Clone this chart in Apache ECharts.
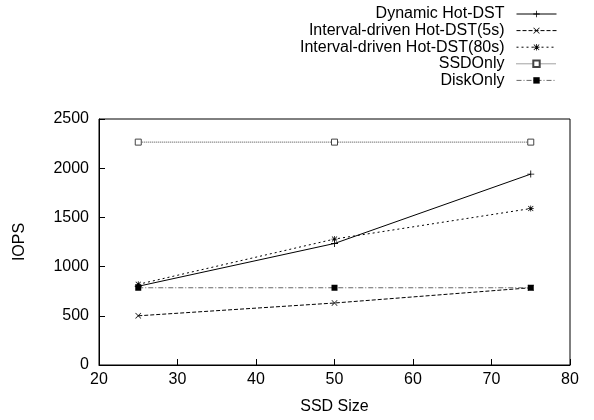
<!DOCTYPE html>
<html><head><meta charset="utf-8">
<script src="https://cdn.jsdelivr.net/npm/echarts@6/dist/echarts.min.js"></script>
<style>html,body{margin:0;padding:0;background:#fff}#c{width:594px;height:420px}</style>
</head><body><div id="c"></div>
<script>
const xValues = [25, 50, 75];
const seriesNames = ['Dynamic Hot-DST','Interval-driven Hot-DST(5s)','Interval-driven Hot-DST(80s)','SSDOnly','DiskOnly'];
const dynamicHotDST = [800, 1235, 1940];
const interval5s = [500, 630, 785];
const interval80s = [820, 1280, 1590];
const ssdOnly = [2265, 2265, 2265];
const diskOnly = [785, 785, 785];

const PLUS = 'path://M0,4.4 L10,4.4 L10,5.6 L0,5.6 Z M4.4,0 L5.6,0 L5.6,10 L4.4,10 Z';
const CROSS = 'path://M0.8,0 L10,9.2 L9.2,10 L0,0.8 Z M9.2,0 L10,0.8 L0.8,10 L0,9.2 Z';
const STAR = 'path://M0,4.4 L10,4.4 L10,5.6 L0,5.6 Z M4.4,0 L5.6,0 L5.6,10 L4.4,10 Z M1.2,0.4 L9.6,8.8 L8.8,9.6 L0.4,1.2 Z M8.8,0.4 L9.6,1.2 L1.2,9.6 L0.4,8.8 Z';

function pts(arr){ return xValues.map((x,i)=>[x,arr[i]]); }
const font = 'Liberation Sans, Arial, Helvetica, sans-serif';
const FS = 16;

const chart = echarts.init(document.getElementById('c'), null, {renderer:'canvas'});
chart.setOption({
  animation:false,
  backgroundColor:'#fff',
  textStyle:{fontFamily:font},
  legend:{
    orient:'vertical', align:'right', right:32, top:1,
    itemWidth:40, itemHeight:8, itemGap:0.6,
    lineStyle:{width:1},
    textStyle:{fontFamily:font, fontSize:FS, lineHeight:16, color:'#000', padding:[0,7,0,0]},
    data:seriesNames
  },
  grid:{left:99, right:24, top:119, bottom:53, show:true, borderColor:'#000', borderWidth:1},
  xAxis:{
    type:'value', min:20, max:80, interval:10,
    name:'SSD Size', nameLocation:'middle', nameGap:34,
    nameTextStyle:{fontFamily:font, fontSize:FS, color:'#000'},
    axisLine:{show:true, onZero:false, lineStyle:{color:'#000', width:1}},
    axisTick:{show:true, inside:true, length:6, lineStyle:{color:'#000'}},
    axisLabel:{fontFamily:font, fontSize:FS, color:'#000', margin:7, formatter:v=>String(v)},
    splitLine:{show:false}
  },
  yAxis:{
    type:'value', min:0, max:2500, interval:500,
    name:'IOPS', nameLocation:'middle', nameGap:71,
    nameTextStyle:{fontFamily:font, fontSize:FS, color:'#000'},
    axisLine:{show:true, lineStyle:{color:'#000', width:1}},
    axisTick:{show:true, inside:true, length:6, lineStyle:{color:'#000'}},
    axisLabel:{fontFamily:font, fontSize:FS, color:'#000', margin:10, formatter:v=>String(v)},
    splitLine:{show:false}
  },
  series:[
    {name:seriesNames[0], type:'line', data:pts(dynamicHotDST), symbol:PLUS, symbolSize:7,
      lineStyle:{color:'#000', width:1, type:'solid'}, itemStyle:{color:'#000'}},
    {name:seriesNames[1], type:'line', data:pts(interval5s), symbol:CROSS, symbolSize:6,
      lineStyle:{color:'#000', width:1, type:[4,2]}, itemStyle:{color:'#000'}},
    {name:seriesNames[2], type:'line', data:pts(interval80s), symbol:STAR, symbolSize:6,
      lineStyle:{color:'#000', width:1, type:[2,3]}, itemStyle:{color:'#000'}},
    {name:seriesNames[3], type:'line', data:pts(ssdOnly), symbol:'rect', symbolSize:6,
      lineStyle:{color:'#444', width:1, type:[1,1]}, itemStyle:{color:'#fff', borderColor:'#444', borderWidth:1}},
    {name:seriesNames[4], type:'line', data:pts(diskOnly), symbol:'rect', symbolSize:6,
      lineStyle:{color:'#666', width:1, type:[5,2,1,2]}, itemStyle:{color:'#000'}}
  ]
});
</script></body></html>
